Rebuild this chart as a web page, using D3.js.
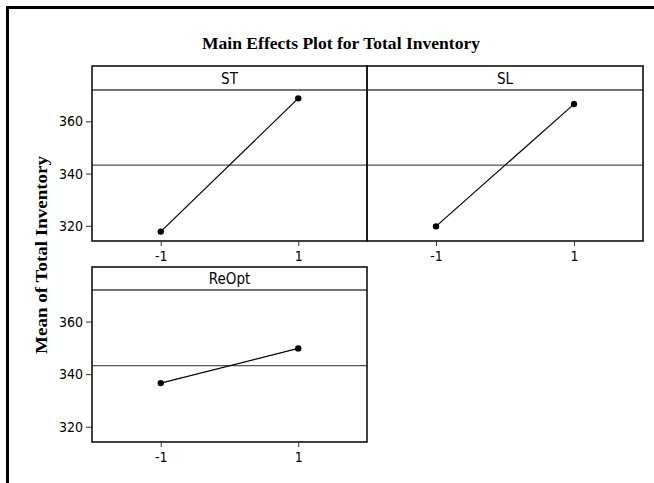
<!DOCTYPE html>
<html>
<head>
<meta charset="utf-8">
<script src="https://cdn.jsdelivr.net/npm/d3@7/dist/d3.min.js"></script>
<style>
  html, body { margin: 0; padding: 0; background: #fff; overflow: hidden; }
  svg { display: block; }
  .tick text { font-family: "DejaVu Sans Condensed", "Liberation Sans", sans-serif; font-size: 14px; fill: #000; }
</style>
</head>
<body>
<svg id="chart" width="654" height="483"></svg>
<script>
// Factor names and level means for Total Inventory
const factors = ["ST", "SL", "ReOpt"];
const levels = [-1, 1];
const stMeans = [317.8, 368.8];
const slMeans = [319.8, 366.6];
const reoptMeans = [336.6, 349.8];
const yTicks = [320, 340, 360];
const xTicks = [-1, 1];

const seriesMeans = [stMeans, slMeans, reoptMeans];
const grandMean = d3.mean(seriesMeans.flat());

const svg = d3.select("#chart");

// outer frame (left and top edges fall inside the page)
svg.append("path")
  .attr("d", "M7.5,483 V7.5 H654")
  .attr("fill", "none").attr("stroke", "#000").attr("stroke-width", 3);

// title
svg.append("text")
  .attr("x", 341).attr("y", 49)
  .attr("text-anchor", "middle")
  .attr("font-family", "'Liberation Serif', 'Times New Roman', serif")
  .attr("font-weight", "bold")
  .attr("font-size", 17)
  .attr("textLength", 278)
  .attr("lengthAdjust", "spacingAndGlyphs")
  .text("Main Effects Plot for Total Inventory");

// y axis title
svg.append("text")
  .attr("transform", "translate(47,255) rotate(-90)")
  .attr("text-anchor", "middle")
  .attr("font-family", "'Liberation Serif', 'Times New Roman', serif")
  .attr("font-weight", "bold")
  .attr("font-size", 17)
  .attr("textLength", 198)
  .attr("lengthAdjust", "spacingAndGlyphs")
  .text("Mean of Total Inventory");

// panel layout: column/row grid
const colX = [[92, 367], [367, 643]];
const rowY = [{ top: 66, head: 90, bottom: 241 }, { top: 267, head: 290, bottom: 442 }];
const panels = [
  { name: factors[0], means: stMeans, col: 0, row: 0, yAxis: true },
  { name: factors[1], means: slMeans, col: 1, row: 0, yAxis: false },
  { name: factors[2], means: reoptMeans, col: 0, row: 1, yAxis: true }
];

const yDomain = [314.2, 372];

panels.forEach(p => {
  const [x0, x1] = colX[p.col];
  const r = rowY[p.row];
  const g = svg.append("g");

  const x = d3.scaleLinear().domain([-2, 2]).range([x0, x1]);
  const y = d3.scaleLinear().domain(yDomain).range([r.bottom, r.head]);

  // reference line at grand mean
  g.append("line")
    .attr("x1", x0).attr("x2", x1)
    .attr("y1", y(grandMean)).attr("y2", y(grandMean))
    .attr("stroke", "#555").attr("stroke-width", 1.2);

  // header separator
  g.append("line")
    .attr("x1", x0).attr("x2", x1)
    .attr("y1", r.head).attr("y2", r.head)
    .attr("stroke", "#444").attr("stroke-width", 1.5);

  // panel border
  g.append("rect")
    .attr("x", x0).attr("y", r.top)
    .attr("width", x1 - x0).attr("height", r.bottom - r.top)
    .attr("fill", "none").attr("stroke", "#111").attr("stroke-width", 1.6);

  // header label
  g.append("text")
    .attr("x", (x0 + x1) / 2).attr("y", r.head - 6)
    .attr("text-anchor", "middle")
    .attr("font-family", "'DejaVu Sans Condensed', 'Liberation Sans', sans-serif")
    .attr("font-size", 15)
    .text(p.name);

  // effect line and points
  const pts = levels.map((lv, i) => [lv, p.means[i]]);
  g.append("path")
    .attr("d", d3.line().x(d => x(d[0])).y(d => y(d[1]))(pts))
    .attr("fill", "none").attr("stroke", "#000").attr("stroke-width", 1.2);
  g.selectAll("circle").data(pts).join("circle")
    .attr("cx", d => x(d[0])).attr("cy", d => y(d[1]))
    .attr("r", 3.2).attr("fill", "#000");

  // x axis
  const xa = g.append("g")
    .attr("transform", `translate(0,${r.bottom})`)
    .call(d3.axisBottom(x).tickValues(xTicks).tickFormat(d => String(d)).tickSize(5).tickPadding(5));
  xa.select(".domain").remove();
  xa.selectAll(".tick line").attr("stroke", "#333");

  // y axis
  if (p.yAxis) {
    const ya = g.append("g")
      .attr("transform", `translate(${x0},0)`)
      .call(d3.axisLeft(y).tickValues(yTicks).tickSize(6).tickPadding(3));
    ya.select(".domain").remove();
    ya.selectAll(".tick line").attr("stroke", "#333");
  }
});
</script>
</body>
</html>
